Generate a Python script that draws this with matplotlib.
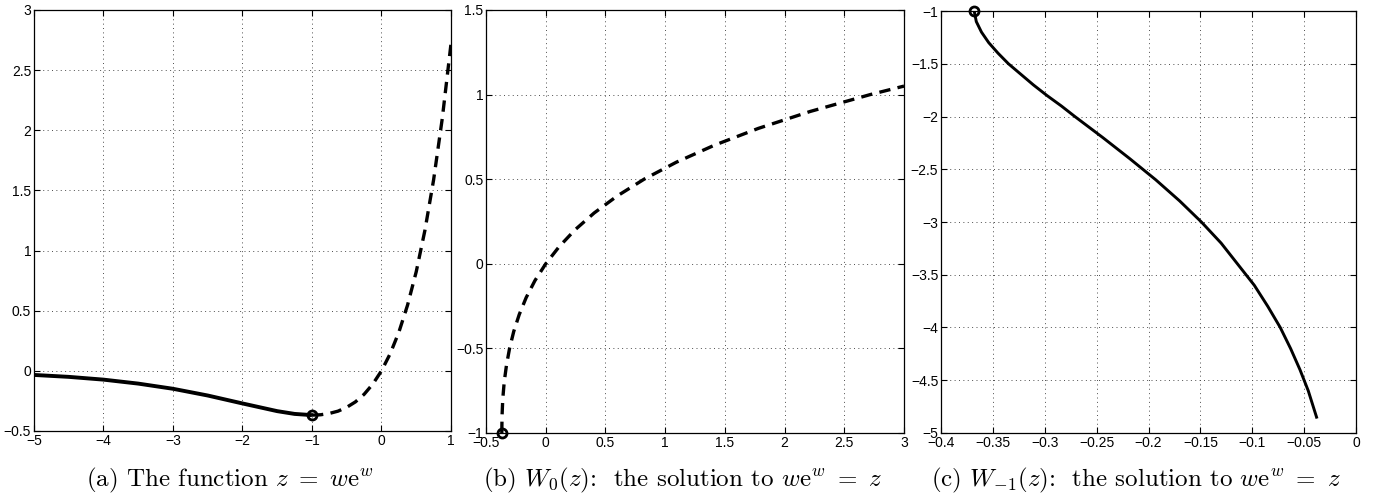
"""
Three-panel figure of z = w e^w and the two real Lambert W branches,
drawn in the look of an old MATLAB export.
Output: out.png
"""

import matplotlib
matplotlib.use("Agg")
import matplotlib.pyplot as plt
from matplotlib.ticker import FuncFormatter, MultipleLocator

# ── Data ───────────────────────────────────────────────────────────────────────
# (a) z = w e^w : solid part (w <= -1) and dashed part (w >= -1)
a_solid_w = [-5.0, -4.5, -4.0, -3.5, -3.0, -2.5, -2.0, -1.5, -1.25, -1.0]
a_solid_z = [-0.034, -0.050, -0.073, -0.106, -0.149, -0.205, -0.271, -0.335, -0.358, -0.368]
a_dash_w = [-1.0, -0.875, -0.75, -0.625, -0.5, -0.375, -0.25, -0.125, 0.0,
            0.125, 0.25, 0.375, 0.5, 0.625, 0.75, 0.875, 1.0]
a_dash_z = [-0.368, -0.365, -0.354, -0.335, -0.303, -0.258, -0.195, -0.110, 0.0,
            0.142, 0.321, 0.546, 0.824, 1.168, 1.588, 2.099, 2.718]

# (b) principal branch W0
b_z = [-0.368, -0.366, -0.360, -0.348, -0.329, -0.303, -0.268, -0.222, -0.164, -0.091,
       0.0, 0.111, 0.244, 0.405, 0.597, 0.824, 1.093, 1.410, 1.780, 2.214, 2.718, 3.0]
b_w = [-1.0, -0.9, -0.8, -0.7, -0.6, -0.5, -0.4, -0.3, -0.2, -0.1,
       0.0, 0.1, 0.2, 0.3, 0.4, 0.5, 0.6, 0.7, 0.8, 0.9, 1.0, 1.05]

# (c) lower branch W_{-1}
c_z = [-0.368, -0.366, -0.361, -0.354, -0.345, -0.335, -0.323, -0.311, -0.298, -0.284,
       -0.271, -0.244, -0.218, -0.193, -0.170, -0.149, -0.130, -0.114, -0.098, -0.085,
       -0.073, -0.063, -0.054, -0.046, -0.038]
c_w = [-1.0, -1.1, -1.2, -1.3, -1.4, -1.5, -1.6, -1.7, -1.8, -1.9,
       -2.0, -2.2, -2.4, -2.6, -2.8, -3.0, -3.2, -3.4, -3.6, -3.8,
       -4.0, -4.2, -4.4, -4.6, -4.85]

branch_point = (-1.0, -0.368)   # (w, z) in panel a; swapped in b and c

captions = [
    r"(a) The function $z\ =\ w\mathrm{e}^w$",
    r"(b) $W_0(z)$:  the solution to $w\mathrm{e}^w\ =\ z$",
    r"(c) $W_{-1}(z)$:  the solution to $w\mathrm{e}^w\ =\ z$",
]

# ── Style ──────────────────────────────────────────────────────────────────────
plt.rcParams["font.family"] = ["Liberation Sans Narrow", "Liberation Sans", "DejaVu Sans"]
plt.rcParams["mathtext.fontset"] = "cm"


def matlab_fmt(v, _pos):
    s = f"{v:g}"
    return s.replace("-", "\u2212")


def style(ax, xlim, ylim, xstep, ystep):
    ax.set_xlim(*xlim)
    ax.set_ylim(*ylim)
    ax.xaxis.set_major_locator(MultipleLocator(xstep))
    ax.yaxis.set_major_locator(MultipleLocator(ystep))
    ax.xaxis.set_major_formatter(FuncFormatter(matlab_fmt))
    ax.yaxis.set_major_formatter(FuncFormatter(matlab_fmt))
    ax.tick_params(direction="in", length=4, width=0.8, top=True, right=True,
                   labelsize=10, pad=2)
    ax.grid(True, color="0.3", linestyle=(0, (1, 3.5)), linewidth=0.7)
    for sp in ax.spines.values():
        sp.set_linewidth(0.9)


fig = plt.figure(figsize=(13.8, 4.97), dpi=100)
fig.patch.set_facecolor("white")

ax_a = fig.add_axes([0.0246, 0.1328, 0.3022, 0.8472])
ax_b = fig.add_axes([0.3522, 0.1288, 0.3029, 0.8512])
ax_c = fig.add_axes([0.6819, 0.1288, 0.3007, 0.8490])

lw = 2.4
dash = (0, (3.4, 2.2))
marker_kw = dict(marker="o", markersize=6.5, markerfacecolor="none",
                 markeredgecolor="black", markeredgewidth=2.0, linestyle="none",
                 clip_on=False, zorder=5)

# (a)
ax_a.plot(a_solid_w, a_solid_z, color="black", lw=lw + 0.4, solid_capstyle="butt")
ax_a.plot(a_dash_w, a_dash_z, color="black", lw=lw, linestyle=dash)
ax_a.plot([branch_point[0]], [branch_point[1]], **marker_kw)
style(ax_a, (-5, 1), (-0.5, 3), 1, 0.5)

# (b)
ax_b.plot(b_z, b_w, color="black", lw=lw, linestyle=dash)
ax_b.plot([branch_point[1]], [branch_point[0]], **marker_kw)
style(ax_b, (-0.5, 3), (-1, 1.5), 0.5, 0.5)

# (c)
ax_c.plot(c_z, c_w, color="black", lw=lw - 0.3)
ax_c.plot([branch_point[1]], [branch_point[0]], **marker_kw)
style(ax_c, (-0.4, 0), (-5, -1), 0.05, 0.5)

# captions
for ax, cap in zip([ax_a, ax_b, ax_c], captions):
    pos = ax.get_position()
    cx = (pos.x0 + pos.x1) / 2 - 0.009
    fig.text(cx, 0.034, cap, ha="center", va="center", fontsize=18,
             family="cmr10")

fig.savefig("out.png", dpi=100, facecolor=fig.get_facecolor())
plt.close(fig)
